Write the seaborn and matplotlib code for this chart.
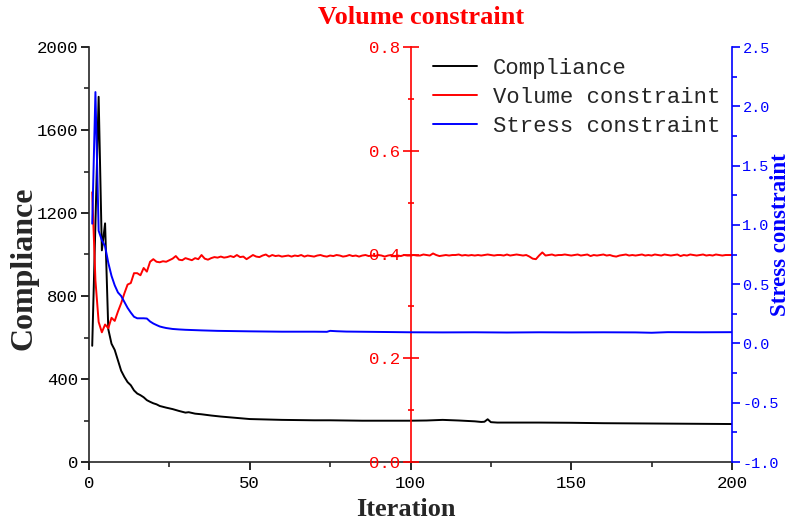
import matplotlib
matplotlib.use("Agg")
import matplotlib.pyplot as plt
import seaborn as sns
from matplotlib.ticker import MultipleLocator, FormatStrFormatter
from matplotlib.lines import Line2D

# ---------------- data ----------------
comp_iter = [1, 2, 3, 4, 5, 6, 7, 8, 9, 10, 11, 12, 13, 14, 15, 16, 17, 18, 19, 20, 21, 22,
             24, 26, 28, 30, 31, 33, 35, 38, 41, 44, 47, 50,
             55, 60, 65, 70, 75, 80, 85, 90, 95, 100, 105, 110, 115, 120,
             122, 123, 124, 125, 127, 130,
             140, 150, 160, 170, 180, 190, 200]
comp_val = [560, 1150, 1760, 1020, 1150, 640, 570, 540, 490, 440, 410, 385, 370, 345, 330, 322,
            312, 298, 290, 283, 278, 270,
            262, 255, 246, 238, 240, 233, 230, 224, 219, 215, 211, 207,
            205, 203, 202, 201, 201, 200, 199, 199, 199, 199, 200, 203, 200, 196,
            193, 194, 206, 192, 190, 190,
            190, 189, 187, 186, 185, 184, 183]

vol_iter = list(range(1, 201))
vol_val = [
    0.520, 0.350, 0.270, 0.250, 0.265, 0.258, 0.278, 0.272, 0.290, 0.306,
    0.325, 0.342, 0.345, 0.364, 0.364, 0.360, 0.374, 0.367, 0.386, 0.391,
    0.386, 0.385, 0.387, 0.386, 0.389, 0.392, 0.397, 0.390, 0.389, 0.393,
    0.391, 0.389, 0.393, 0.391, 0.399, 0.392, 0.390, 0.393, 0.395, 0.394,
    0.396, 0.394, 0.395, 0.397, 0.395, 0.399, 0.395, 0.396, 0.391, 0.395,
    0.399, 0.396, 0.395, 0.398, 0.400, 0.396, 0.399, 0.397, 0.398, 0.396,
    0.397, 0.398, 0.396, 0.398, 0.397, 0.399, 0.396, 0.398, 0.397, 0.396,
    0.398, 0.399, 0.397, 0.396, 0.398, 0.397, 0.399, 0.398, 0.396, 0.397,
    0.399, 0.397, 0.398, 0.396, 0.398, 0.399, 0.397, 0.398, 0.397, 0.399,
    0.398, 0.396, 0.398, 0.399, 0.397, 0.398, 0.397, 0.399, 0.398, 0.398,
    0.399, 0.398, 0.398, 0.400, 0.399, 0.398, 0.402, 0.399, 0.397, 0.398,
    0.399, 0.398, 0.399, 0.399, 0.400, 0.398, 0.399, 0.398, 0.399, 0.398,
    0.399, 0.398, 0.399, 0.400, 0.399, 0.398, 0.399, 0.399, 0.398, 0.400,
    0.398, 0.399, 0.400, 0.399, 0.398, 0.399, 0.396, 0.392, 0.391, 0.398,
    0.404, 0.398, 0.399, 0.400, 0.398, 0.399, 0.399, 0.400, 0.399, 0.398,
    0.399, 0.400, 0.398, 0.399, 0.400, 0.397, 0.399, 0.398, 0.399, 0.400,
    0.398, 0.399, 0.397, 0.396, 0.398, 0.399, 0.400, 0.398, 0.399, 0.398,
    0.399, 0.400, 0.398, 0.399, 0.398, 0.400, 0.399, 0.398, 0.400, 0.399,
    0.398, 0.399, 0.400, 0.397, 0.399, 0.398, 0.400, 0.399, 0.398, 0.399,
    0.400, 0.398, 0.399, 0.398, 0.400, 0.399, 0.398, 0.399, 0.399, 0.399]

stress_iter = [1, 2, 3, 4, 5, 6, 7, 8, 9, 10, 11, 12, 13, 14, 15, 16, 17, 18, 19, 20, 21, 22, 23, 24,
               26, 28, 30, 35, 40, 50, 60, 70, 74, 75, 77, 80, 90, 100,
               110, 120, 130, 140, 150, 160, 170, 175, 180, 190, 200]
stress_val = [1.01, 2.12, 0.95, 0.87, 0.82, 0.68, 0.57, 0.49, 0.43, 0.40, 0.35, 0.30, 0.26, 0.225,
              0.212, 0.212, 0.212, 0.210, 0.185, 0.168, 0.155, 0.143, 0.136, 0.130,
              0.122, 0.118, 0.115, 0.110, 0.106, 0.102, 0.099, 0.099, 0.098, 0.106, 0.103, 0.100,
              0.097, 0.094,
              0.093, 0.094, 0.092, 0.094, 0.093, 0.094, 0.093, 0.090, 0.095, 0.094, 0.095]

series_names = ["Compliance", "Volume constraint", "Stress constraint"]
series_colors = ["black", "red", "blue"]

# ---------------- style ----------------
sns.set_style("ticks")
plt.rcParams["font.family"] = ["Liberation Mono", "DejaVu Sans Mono"]
plt.rcParams["axes.unicode_minus"] = True
SERIF = ["Liberation Serif", "DejaVu Serif"]
TICK_FS = 12.5

fig = plt.figure(figsize=(7.96, 5.22), dpi=100)
ax = fig.add_axes([89 / 796, 1 - 462 / 522, 643 / 796, 415 / 522])
ax2 = ax.twinx()
ax3 = ax.twinx()

LW = 1.4
sns.lineplot(x=comp_iter, y=comp_val, ax=ax, color=series_colors[0], linewidth=LW, legend=False)
sns.lineplot(x=vol_iter, y=vol_val, ax=ax2, color=series_colors[1], linewidth=LW, legend=False)
sns.lineplot(x=stress_iter, y=stress_val, ax=ax3, color=series_colors[2], linewidth=LW, legend=False)

SPW = 1.2
# main axis
ax.set_xlim(0, 200)
ax.set_ylim(0, 2000)
ax.xaxis.set_major_locator(MultipleLocator(50))
ax.xaxis.set_minor_locator(MultipleLocator(25))
ax.yaxis.set_major_locator(MultipleLocator(400))
ax.yaxis.set_minor_locator(MultipleLocator(200))
for s in ["top", "right"]:
    ax.spines[s].set_visible(False)
for s in ["left", "bottom"]:
    ax.spines[s].set_linewidth(SPW)
ax.tick_params(which="major", direction="out", length=6, width=SPW, labelsize=TICK_FS, pad=2,
               colors="black")
ax.tick_params(axis="x", which="major", pad=4)
ax.tick_params(which="minor", direction="out", length=3.5, width=SPW)

# volume axis (middle)
ax2.set_ylim(0, 0.8)
for s in ["top", "right", "bottom"]:
    ax2.spines[s].set_visible(False)
ax2.spines["left"].set_visible(True)
ax2.spines["left"].set_position(("data", 100))
ax2.spines["left"].set_color("red")
ax2.spines["left"].set_linewidth(SPW)
ax2.yaxis.tick_left()
ax2.yaxis.set_major_locator(MultipleLocator(0.2))
ax2.yaxis.set_minor_locator(MultipleLocator(0.1))
ax2.yaxis.set_major_formatter(FormatStrFormatter("%.1f"))
ax2.tick_params(axis="y", which="major", direction="inout", length=11.5, width=SPW,
                colors="red", labelsize=TICK_FS, pad=2)
ax2.tick_params(axis="y", which="minor", direction="inout", length=4.5, width=SPW, colors="red")
ax2.set_ylabel("")

# stress axis (right)
ax3.set_ylim(-1.0, 2.5)
for s in ["top", "left", "bottom"]:
    ax3.spines[s].set_visible(False)
ax3.spines["right"].set_color("blue")
ax3.spines["right"].set_linewidth(SPW)
ax3.yaxis.set_major_locator(MultipleLocator(0.5))
ax3.yaxis.set_minor_locator(MultipleLocator(0.25))
ax3.yaxis.set_major_formatter(FormatStrFormatter("%.1f"))
ax3.tick_params(axis="y", which="major", direction="out", length=5.5, width=SPW,
                colors="blue", labelsize=11, pad=2)
ax3.tick_params(axis="y", which="minor", direction="out", length=3.5, width=SPW, colors="blue")

# labels
ax.set_xlabel("Iteration", fontfamily=SERIF, fontweight="bold", fontsize=19)
ax.xaxis.set_label_coords((406 - 89) / 643, (462 - 498) / 415)
ax.set_ylabel("Compliance", fontfamily=SERIF, fontweight="bold", fontsize=23)
ax.yaxis.set_label_coords((38 - 89) / 643, (462 - 268) / 415)
ax3.set_ylabel("Stress constraint", fontfamily=SERIF, fontweight="bold", fontsize=16.5,
               color="blue", rotation=90)
ax3.yaxis.set_label_coords((770 - 89) / 643, (462 - 235) / 415)
fig.text(421 / 796, 1 - 18 / 522, "Volume constraint", color="red", fontfamily=SERIF,
         fontweight="bold", fontsize=19, ha="center", va="center")

handles = [Line2D([], [], color=c, linewidth=LW) for c in series_colors]
leg = ax3.legend(handles, series_names, loc="upper left",
                 bbox_to_anchor=(433 / 796, 1 - 58 / 522), bbox_transform=fig.transFigure,
                 frameon=False, fontsize=16, handlelength=2.0, handletextpad=0.7,
                 labelspacing=0.36, borderpad=0, borderaxespad=0)

fig.savefig("out.png", dpi=100)
